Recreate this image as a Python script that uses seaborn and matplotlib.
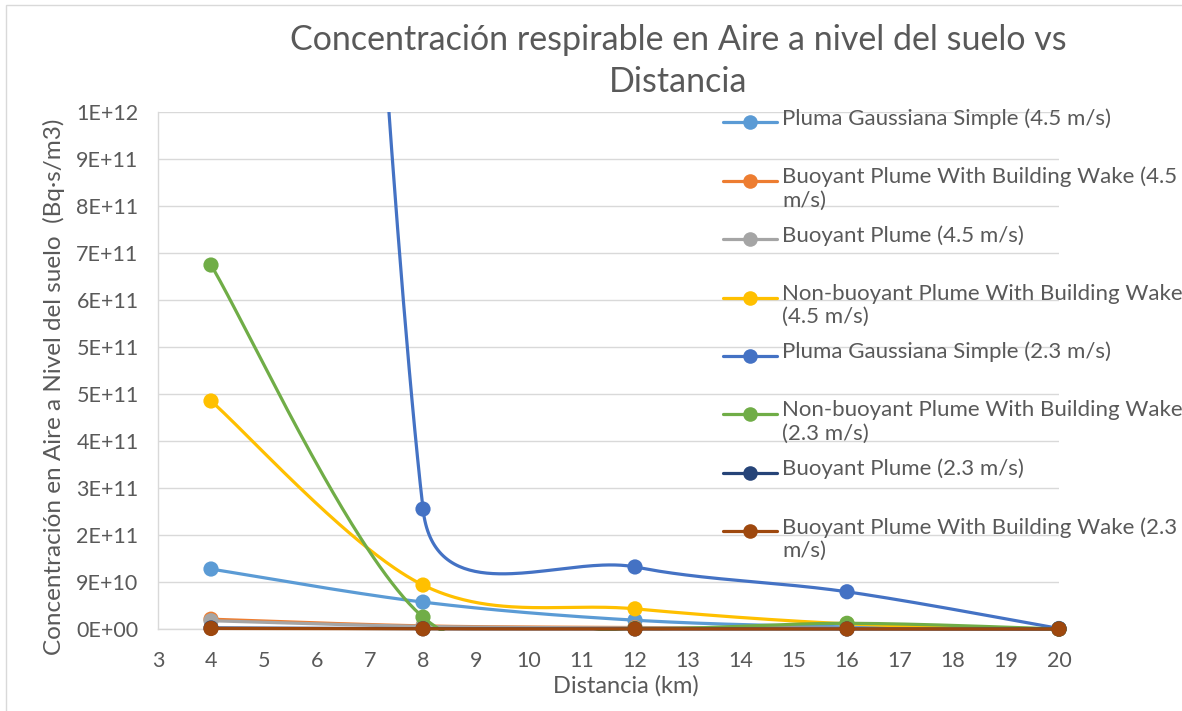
import textwrap
import numpy as np
import pandas as pd
import matplotlib
matplotlib.use("Agg")
import matplotlib.pyplot as plt
import matplotlib.ticker as mticker
from matplotlib.lines import Line2D
from matplotlib.patches import Rectangle
import seaborn as sns

# distancia (km) y concentraciones (Bq·s/m3)
distancia = [4, 8, 12, 16, 20]

gauss_45 = [1.16e11, 5.2e10, 1.7e10, 4e9, 0]
bpbw_45 = [1.9e10, 6e9, 3e9, 1e9, 0]
bp_45 = [1.6e10, 5e9, 2e9, 1e9, 0]
nbbw_45 = [4.41e11, 8.5e10, 3.9e10, 1.0e10, 0]
gauss_23 = [7.4e12, 2.32e11, 1.2e11, 7.2e10, 1e9]
nbbw_23 = [7.04e11, 2.3e10, 1e9, 1.1e10, 0]
bp_23 = [2e9, 5e8, 2e8, 1e8, 0]
bpbw_23 = [1e9, 3e8, 1e8, 5e7, 0]

series = [
    ("Pluma Gaussiana Simple (4.5 m/s)", gauss_45, "#5B9BD5"),
    ("Buoyant Plume With Building Wake (4.5 m/s)", bpbw_45, "#ED7D31"),
    ("Buoyant Plume (4.5 m/s)", bp_45, "#A5A5A5"),
    ("Non-buoyant Plume With Building Wake (4.5 m/s)", nbbw_45, "#FFC000"),
    ("Pluma Gaussiana Simple (2.3 m/s)", gauss_23, "#4472C4"),
    ("Non-buoyant Plume With Building Wake (2.3 m/s)", nbbw_23, "#70AD47"),
    ("Buoyant Plume (2.3 m/s)", bp_23, "#264478"),
    ("Buoyant Plume With Building Wake (2.3 m/s)", bpbw_23, "#9E480E"),
]

TXT = "#595959"
W, H = 1182, 711
ax_l, ax_r, ax_t, ax_b = 158, 1059, 112, 629
x_min, x_max = 3, 20
y_max = 1e12


def excel_smooth(xs, ys, sx, sy, n=80):
    # curva suavizada tipo Excel (bezier, control limitado a medio segmento)
    P = np.column_stack([np.asarray(xs, float) * sx, np.asarray(ys, float) * sy])
    out = []
    for i in range(len(P) - 1):
        p0 = P[max(i - 1, 0)]
        p1 = P[i]
        p2 = P[i + 1]
        p3 = P[min(i + 2, len(P) - 1)]
        d12 = np.linalg.norm(p2 - p1)
        v1 = (p2 - p0) / 6
        v2 = (p3 - p1) / 6
        if np.linalg.norm(v1) > d12 / 2:
            v1 = v1 / np.linalg.norm(v1) * d12 / 2
        if np.linalg.norm(v2) > d12 / 2:
            v2 = v2 / np.linalg.norm(v2) * d12 / 2
        b1 = p1 + v1
        b2 = p2 - v2
        t = np.linspace(0, 1, n)[:, None]
        seg = (1 - t) ** 3 * p1 + 3 * (1 - t) ** 2 * t * b1 + 3 * (1 - t) * t ** 2 * b2 + t ** 3 * p2
        out.append(seg if i == 0 else seg[1:])
    pts = np.vstack(out)
    return pts[:, 0] / sx, pts[:, 1] / sy


sns.set_style("white")
plt.rcParams["font.family"] = ["Lato", "DejaVu Sans"]

fig = plt.figure(figsize=(W / 100, H / 100), dpi=100)
ax = fig.add_axes([ax_l / W, (H - ax_b) / H, (ax_r - ax_l) / W, (ax_b - ax_t) / H])

sx = (ax_r - ax_l) / (x_max - x_min)
sy = (ax_b - ax_t) / y_max

# lineas recortadas justo bajo el eje, marcadores completos
clip_line = Rectangle((-0.05, -2 / (ax_b - ax_t)), 1.1, 1 + 2 / (ax_b - ax_t),
                      transform=ax.transAxes, visible=False)
clip_mark = Rectangle((-0.05, -0.05), 1.1, 1.05, transform=ax.transAxes, visible=False)
ax.add_patch(clip_line)
ax.add_patch(clip_mark)

for k, (name, vals, col) in enumerate(series):
    xs, ys = excel_smooth(distancia, vals, sx, sy)
    df = pd.DataFrame({"x": xs, "y": ys})
    sns.lineplot(data=df, x="x", y="y", sort=False, estimator=None, color=col,
                 lw=2.3, ax=ax, zorder=3 + k * 0.1)
    ax.lines[-1].set_clip_path(clip_line)
    sns.scatterplot(x=distancia, y=vals, color=col, s=120, edgecolor="none",
                    ax=ax, zorder=3.05 + k * 0.1)
    ax.collections[-1].set_clip_path(clip_mark)

ax.set_xlim(x_min, x_max)
ax.set_ylim(0, y_max)
ax.set_xticks(range(x_min, x_max + 1))
ax.set_yticks(np.linspace(0, y_max, 12))
ax.yaxis.set_major_formatter(mticker.FuncFormatter(lambda v, p: f"{v:.0E}"))
ax.yaxis.grid(True, color="#D9D9D9", lw=1)
ax.xaxis.grid(False)
ax.tick_params(length=0, labelsize=15.5, colors=TXT)
ax.tick_params(axis="y", pad=14)
ax.tick_params(axis="x", pad=16)
for s in ["top", "right"]:
    ax.spines[s].set_visible(False)
for s in ["left", "bottom"]:
    ax.spines[s].set_color("#D9D9D9")
    ax.spines[s].set_linewidth(1)

ax.set_xlabel("Distancia (km)", fontsize=17, color=TXT)
ax.xaxis.set_label_coords((626 - ax_l) / (ax_r - ax_l), (ax_b - 686) / (ax_b - ax_t))
ax.xaxis.label.set_va("center")
ax.set_ylabel("Concentración en Aire a Nivel del suelo  (Bq·s/m3)", fontsize=17.5, color=TXT)
ax.yaxis.set_label_coords((54 - ax_l) / (ax_r - ax_l), (ax_b - 387) / (ax_b - ax_t))
ax.yaxis.label.set_va("center")

fig.text(678 / W, 1 - 61 / H, "Concentración respirable en Aire a nivel del suelo vs\nDistancia",
         ha="center", va="center", fontsize=24.5, color=TXT, linespacing=1.36)

# leyenda a la derecha, con texto partido como en Excel
for k, (name, vals, col) in enumerate(series):
    yc = 1 - (122.3 + k * 58.4) / H
    fig.add_artist(Line2D([723 / W, 777 / W], [yc, yc], color=col, lw=2.3,
                          transform=fig.transFigure))
    fig.add_artist(Line2D([750 / W], [yc], color=col, marker="o", ms=10.5, mec="none",
                          transform=fig.transFigure))
    fig.text(782 / W, yc + 14 / H, textwrap.fill(name, 37), ha="left", va="top",
             fontsize=16, color=TXT, linespacing=1.2)

fig.add_artist(Rectangle((6 / W, -0.1), 1.2, 1 - 5 / H + 0.1, transform=fig.transFigure,
                         fill=False, edgecolor="#D9D9D9", lw=1))

fig.savefig("out.png", dpi=100, facecolor="white")
